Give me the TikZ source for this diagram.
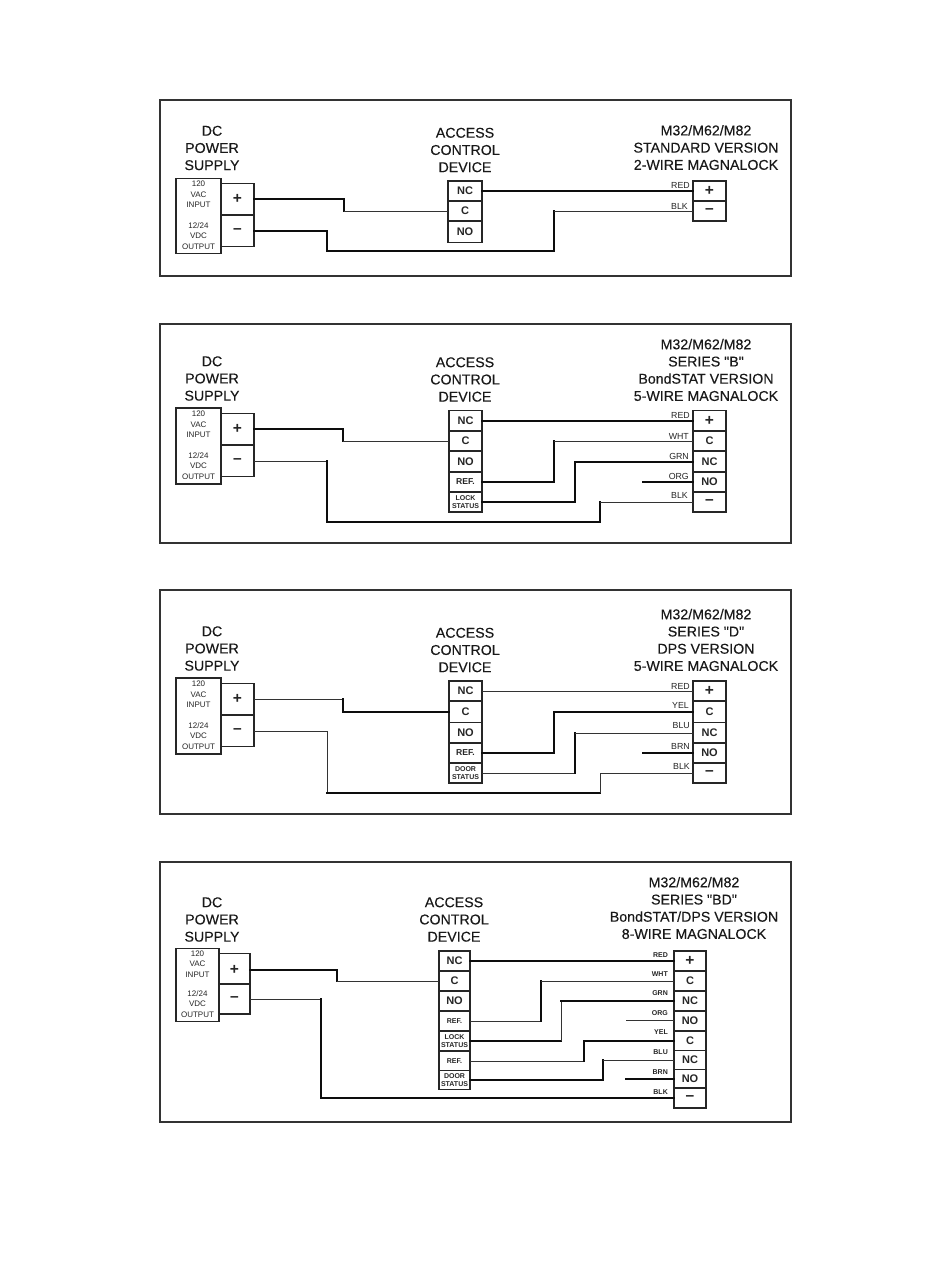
\documentclass[tikz,border=0pt]{standalone}
\usepackage{fontspec}
\setmainfont{Liberation Sans}
\newfontfamily\headfont[FakeBold=0.2]{Liberation Sans}
\tikzset{
  x=1pt,y=-1pt,
  frame/.style={draw=black!80,line width=2.4pt},
  termcell/.style={draw=black!85,line width=1.3pt,inner sep=0pt,outer sep=0pt,fill=white,align=center,font=\fontsize{11}{11}\selectfont\bfseries,text=black!85},
  smallcell/.style={termcell,font=\fontsize{7}{8.6}\selectfont\bfseries},
  refcell/.style={termcell,font=\fontsize{8.6}{9}\selectfont\bfseries},
  sign/.style={termcell,font=\fontsize{15.5}{15}\selectfont\bfseries},
  supply/.style={draw=black!85,line width=1.5pt,inner sep=0pt,outer sep=0pt,fill=white},
  head/.style={inner sep=0pt,align=center,text=black!90,font=\fontsize{14.2}{17.2}\selectfont\headfont},
  psutext/.style={inner sep=0pt,align=center,text=black!85,font=\fontsize{8}{10.4}\selectfont},
  wirelabel/.style={inner sep=0pt,anchor=east,text=black!85,font=\fontsize{8.8}{9}\selectfont},
  tinylabel/.style={wirelabel,font=\fontsize{7}{8}\selectfont\bfseries},
  thn/.style={draw=black!80,line width=0.9pt,line cap=rect},
  thk/.style={draw=black!95,line width=1.95pt,line cap=rect},
}
% name, x1, x2, y1, y2, style, text (centre height snapped to a whole pixel)
\newcommand{\boxcell}[7]{\node[#6,minimum width={(#3-#2)*1pt},minimum height={(#5-#4)*1pt}] (#1) at ({(#2+#3)/2},{round((#4+#5)/2)}) {#7};}
% route from a to b bending at x: styles of three segments
\newcommand{\route}[6]{\coordinate (tmpx) at (#3,0);
  \draw[#4] (#1) -- (#1 -| tmpx);
  \draw[#5] (#1 -| tmpx) -- (#2 -| tmpx);
  \draw[#6] (#2 -| tmpx) -- (#2);}
% route with a low run: a, x1, ybottom, x2, b and styles
\newcommand{\lowroute}[9]{\coordinate (tmpx) at (#2,#3);\coordinate (tmpy) at (#4,#3);
  \draw[#6] (#1) -- (#1 -| tmpx);
  \draw[#7] (#1 -| tmpx) -- (tmpx);
  \draw[#8] (tmpx) -- (tmpy);
  \draw[#7] (tmpy) -- (#5 -| tmpy);
  \draw[#9] (#5 -| tmpy) -- (#5);}
\newcommand{\psu}[8]{% prefix, x1,x2 supply, x3 term, ytop, ybot, termtop, termmid
  \boxcell{#1psu}{#2}{#3}{#5}{#6}{supply}{}
  \node[psutext] (#1in) at ({(#2+#3)/2},{#5+16.5}) {120\\VAC\\INPUT};
  \node[psutext] (#1out) at ({(#2+#3)/2},{#5+58}) {12/24\\VDC\\OUTPUT};
  \boxcell{#1plus}{#3}{#4}{#7}{#8}{sign}{+}
  \boxcell{#1minus}{#3}{#4}{#8}{#8+(#8-#7)}{sign}{–}
}
\begin{document}
\begin{tikzpicture}
\useasboundingbox (0,0) rectangle (950,1284);
\fill[white] (0,0) rectangle (950,1284);
% ---------- Panel 1
\draw[frame] (160,100) rectangle (791,276);
\node[head] (h1a) at (212,148) {DC\\POWER\\SUPPLY};
\node[head] (h1b) at (465,150) {ACCESS\\CONTROL\\DEVICE};
\node[head] (h1c) at (706,147.5) {M32/M62/M82\\STANDARD VERSION\\2-WIRE MAGNALOCK};
\psu{a}{176}{221}{254}{178}{253}{183.5}{215}
\boxcell{anc}{448}{482}{181}{201}{termcell}{NC}
\boxcell{ac}{448}{482}{201}{221}{termcell}{C}
\boxcell{ano}{448}{482}{221}{242}{termcell}{NO}
\boxcell{ap}{693}{726}{181}{201}{sign}{+}
\boxcell{am}{693}{726}{201}{221}{sign}{–}
\node[wirelabel] (ared) at (690,185) {RED};
\node[wirelabel] (ablk) at (688,206) {BLK};
\draw[thk] (anc.east) -- (anc.east -| ap.west);
\route{aplus.east}{ac.west}{344}{thk}{thk}{thn}
\lowroute{aminus.east}{327}{251}{554}{am.west}{thk}{thk}{thk}{thn}
% ---------- Panel 2
\draw[frame] (160,324) rectangle (791,543);
\node[head] (h2a) at (212,378.5) {DC\\POWER\\SUPPLY};
\node[head] (h2b) at (465,379.5) {ACCESS\\CONTROL\\DEVICE};
\node[head] (h2c) at (706,370) {M32/M62/M82\\SERIES "B"\\BondSTAT VERSION\\5-WIRE MAGNALOCK};
\psu{b}{176}{221}{254}{408}{484}{413.5}{445}
\boxcell{bnc}{449}{482}{410}{431}{termcell}{NC}
\boxcell{bc}{449}{482}{431}{451}{termcell}{C}
\boxcell{bno}{449}{482}{451}{472}{termcell}{NO}
\boxcell{bref}{449}{482}{472}{492}{refcell}{REF.}
\boxcell{bst}{449}{482}{492}{512}{smallcell}{LOCK\\STATUS}
\boxcell{bp}{693}{726}{410}{431}{sign}{+}
\boxcell{blc}{693}{726}{431}{451}{termcell}{C}
\boxcell{blnc}{693}{726}{451}{472}{termcell}{NC}
\boxcell{blno}{693}{726}{472}{492}{termcell}{NO}
\boxcell{bm}{693}{726}{492}{512}{sign}{–}
\node[wirelabel] (bred) at (690,415) {RED};
\node[wirelabel] (bwht) at (689,436) {WHT};
\node[wirelabel] (bgrn) at (689,456) {GRN};
\node[wirelabel] (borg) at (689,476) {ORG};
\node[wirelabel] (bblk) at (688,495) {BLK};
\coordinate (bfree) at (643,482);
\draw[thk] (bnc.east) -- (bnc.east -| bp.west);
\draw[thk] (bfree) -- (bfree -| blno.west);
\route{bplus.east}{bc.west}{343}{thk}{thk}{thn}
\route{bref.east}{blc.west}{554}{thk}{thk}{thn}
\route{bst.east}{blnc.west}{575}{thk}{thk}{thk}
\lowroute{bminus.east}{327}{522}{600}{bm.west}{thn}{thk}{thk}{thn}
% ---------- Panel 3
\draw[frame] (160,590) rectangle (791,814);
\node[head] (h3a) at (212,648.5) {DC\\POWER\\SUPPLY};
\node[head] (h3b) at (465,650) {ACCESS\\CONTROL\\DEVICE};
\node[head] (h3c) at (706,640) {M32/M62/M82\\SERIES "D"\\DPS VERSION\\5-WIRE MAGNALOCK};
\psu{c}{176}{221}{254}{678}{754}{683.5}{715}
\boxcell{cnc}{449}{482}{681}{701}{termcell}{NC}
\boxcell{cc}{449}{482}{701}{722}{termcell}{C}
\boxcell{cno}{449}{482}{722}{743}{termcell}{NO}
\boxcell{cref}{449}{482}{743}{763}{refcell}{REF.}
\boxcell{cst}{449}{482}{763}{783}{smallcell}{DOOR\\STATUS}
\boxcell{cp}{693}{726}{681}{701}{sign}{+}
\boxcell{clc}{693}{726}{701}{722}{termcell}{C}
\boxcell{clnc}{693}{726}{722}{743}{termcell}{NC}
\boxcell{clno}{693}{726}{743}{763}{termcell}{NO}
\boxcell{cm}{693}{726}{763}{783}{sign}{–}
\node[wirelabel] (cred) at (690,686) {RED};
\node[wirelabel] (cyel) at (689,705) {YEL};
\node[wirelabel] (cblu) at (690,726) {BLU};
\node[wirelabel] (cbrn) at (690,746) {BRN};
\node[wirelabel] (cblk) at (690,766) {BLK};
\coordinate (cfree) at (643,753);
\draw[thn] (cnc.east) -- (cnc.east -| cp.west);
\draw[thk] (cfree) -- (cfree -| clno.west);
\route{cplus.east}{cc.west}{343}{thn}{thk}{thk}
\route{cref.east}{clc.west}{554}{thk}{thk}{thk}
\route{cst.east}{clnc.west}{575}{thn}{thk}{thn}
\lowroute{cminus.east}{327}{793}{600}{cm.west}{thn}{thn}{thk}{thn}
% ---------- Panel 4
\draw[frame] (160,862) rectangle (791,1122);
\node[head] (h4a) at (212,919.5) {DC\\POWER\\SUPPLY};
\node[head] (h4b) at (454,919.5) {ACCESS\\CONTROL\\DEVICE};
\node[head] (h4c) at (694,908) {M32/M62/M82\\SERIES "BD"\\BondSTAT/DPS VERSION\\8-WIRE MAGNALOCK};
\boxcell{dpsu}{176}{219}{948}{1021}{supply}{}
\node[psutext] (din) at (197.5,964) {120\\VAC\\INPUT};
\node[psutext] (dout) at (197.5,1004) {12/24\\VDC\\OUTPUT};
\boxcell{dplus}{219}{250}{953}{986}{sign}{+}
\boxcell{dminus}{219}{250}{984}{1014}{sign}{–}
\boxcell{dnc}{439}{470}{951}{971}{termcell}{NC}
\boxcell{dc}{439}{470}{971}{991}{termcell}{C}
\boxcell{dno}{439}{470}{991}{1011}{termcell}{NO}
\boxcell{dref}{439}{470}{1011}{1031}{smallcell}{REF.}
\boxcell{dst}{439}{470}{1031}{1051}{smallcell}{LOCK\\STATUS}
\boxcell{drefb}{439}{470}{1051}{1070}{smallcell}{REF.}
\boxcell{dstb}{439}{470}{1070}{1089}{smallcell}{DOOR\\STATUS}
\boxcell{dp}{674}{706}{951}{971}{sign}{+}
\boxcell{dlc}{674}{706}{971}{991}{termcell}{C}
\boxcell{dlnc}{674}{706}{991}{1011}{termcell}{NC}
\boxcell{dlno}{674}{706}{1011}{1031}{termcell}{NO}
\boxcell{dlcb}{674}{706}{1031}{1050}{termcell}{C}
\boxcell{dlncb}{674}{706}{1050}{1069}{termcell}{NC}
\boxcell{dlnob}{674}{706}{1069}{1088}{termcell}{NO}
\boxcell{dm}{674}{706}{1088}{1108}{sign}{–}
\node[tinylabel] (dred) at (668,955) {RED};
\node[tinylabel] (dwht) at (668,974) {WHT};
\node[tinylabel] (dgrn) at (668,993) {GRN};
\node[tinylabel] (dorg) at (668,1013) {ORG};
\node[tinylabel] (dyel) at (668,1032) {YEL};
\node[tinylabel] (dblu) at (668,1052) {BLU};
\node[tinylabel] (dbrn) at (668,1072) {BRN};
\node[tinylabel] (dblk) at (668,1092) {BLK};
\coordinate (dfreea) at (626,1020);
\coordinate (dfreeb) at (626,1079);
\draw[thk] (dnc.east) -- (dnc.east -| dp.west);
\draw[thn] (dfreea) -- (dfreea -| dlno.west);
\draw[thk] (dfreeb) -- (dfreeb -| dlnob.west);
\route{dplus.east}{dc.west}{337}{thk}{thk}{thn}
\route{dref.east}{dlc.west}{541}{thn}{thk}{thn}
\route{dst.east}{dlnc.west}{561}{thk}{thn}{thk}
\route{drefb.east}{dlcb.west}{584}{thn}{thk}{thk}
\route{dstb.east}{dlncb.west}{603}{thk}{thk}{thn}
\coordinate (dx) at (321,0);
\draw[thn] (dminus.east) -- (dminus.east -| dx);
\draw[thk] (dminus.east -| dx) -- (dm.west -| dx);
\draw[thk] (dm.west -| dx) -- (dm.west);
\end{tikzpicture}
\end{document}
